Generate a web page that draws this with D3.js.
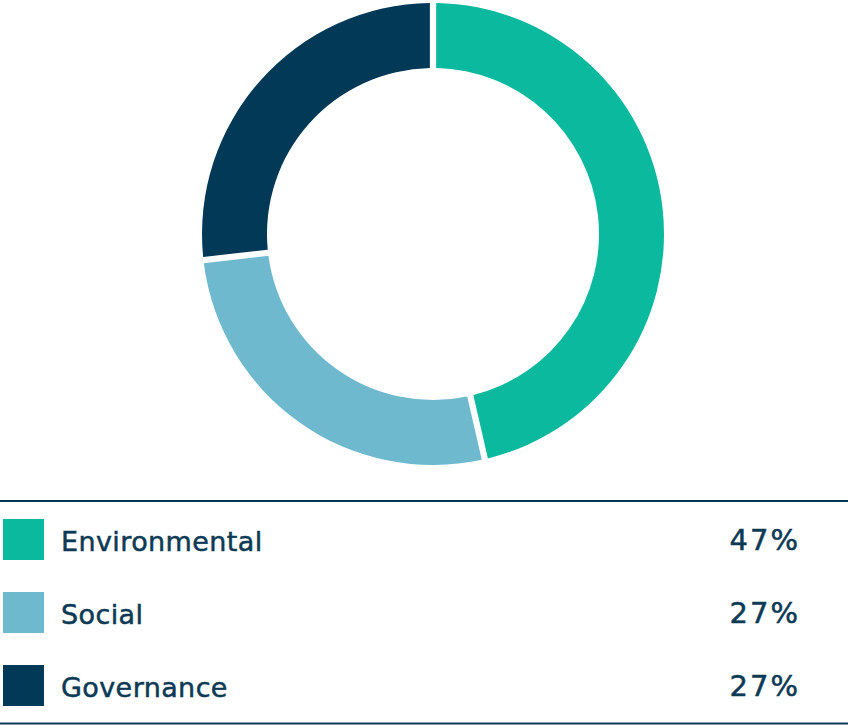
<!DOCTYPE html>
<html>
<head>
<meta charset="utf-8">
<script src="https://cdn.jsdelivr.net/npm/d3@7"></script>
<style>
  html, body { margin: 0; padding: 0; background: #fff; }
  svg { display: block; }
</style>
</head>
<body>
<svg id="chart" width="848" height="725"></svg>
<script>
// ESG breakdown
const categories = ["Environmental", "Social", "Governance"];
const values = [47, 27, 27];
const valueLabels = ["47%", "27%", "27%"];
const colors = ["#0bb99e", "#6fb9cf", "#023957"];

const svg = d3.select("#chart");
const textColor = "#0c3a55";
const font = "'DejaVu Sans', sans-serif";

// Donut
const cx = 433, cy = 234;
const outerR = 231, innerR = 166;

const pie = d3.pie().sort(null).value(d => d).padAngle(0.022);
const arc = d3.arc().innerRadius(innerR).outerRadius(outerR);

svg.append("g")
  .attr("transform", `translate(${cx},${cy})`)
  .selectAll("path")
  .data(pie(values))
  .join("path")
  .attr("d", arc)
  .attr("fill", (d, i) => colors[i]);

// Legend table
const rowY = d3.scalePoint().domain(categories).range([539.5, 685.5]);

svg.append("line")
  .attr("x1", 0).attr("x2", 848)
  .attr("y1", 501).attr("y2", 501)
  .attr("stroke", "#023957").attr("stroke-width", 2);

svg.append("line")
  .attr("x1", 0).attr("x2", 848)
  .attr("y1", 723.5).attr("y2", 723.5)
  .attr("stroke", "#023957").attr("stroke-width", 2);

const rows = svg.append("g").selectAll("g")
  .data(categories)
  .join("g")
  .attr("transform", d => `translate(0,${rowY(d)})`);

rows.append("rect")
  .attr("x", 3).attr("y", -20.5)
  .attr("width", 41).attr("height", 41)
  .attr("fill", (d, i) => colors[i]);

rows.append("text")
  .attr("x", 61).attr("y", 11)
  .attr("fill", textColor)
  .attr("stroke", textColor)
  .attr("stroke-width", 0.5)
  .style("font-family", font)
  .style("font-size", "27px")
  .style("letter-spacing", "0.4px")
  .text(d => d);

rows.append("text")
  .attr("x", 800).attr("y", 10.5)
  .attr("text-anchor", "end")
  .attr("fill", textColor)
  .attr("stroke", textColor)
  .attr("stroke-width", 0.5)
  .style("font-family", font)
  .style("font-size", "29px")
  .style("letter-spacing", "2px")
  .text((d, i) => valueLabels[i]);
</script>
</body>
</html>
